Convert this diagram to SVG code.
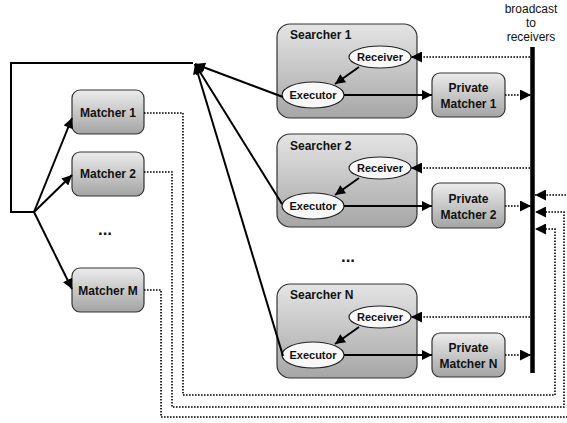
<svg xmlns="http://www.w3.org/2000/svg" width="567" height="423" viewBox="0 0 567 423">
  <defs>
    <linearGradient id="boxFill" x1="0" y1="0" x2="0" y2="1">
      <stop offset="0" stop-color="#ececec"/>
      <stop offset="1" stop-color="#a4a4a4"/>
    </linearGradient>
    <linearGradient id="searcherFill" x1="0" y1="0" x2="0" y2="1">
      <stop offset="0" stop-color="#e4e4e4"/>
      <stop offset="1" stop-color="#a6a6a6"/>
    </linearGradient>
    <marker id="arrow" viewBox="0 0 10 10" refX="10" refY="5" markerWidth="11" markerHeight="10" markerUnits="userSpaceOnUse" orient="auto">
      <path d="M0,0 L10,5 L0,10 z" fill="#000"/>
    </marker>
    <marker id="arrowDot" viewBox="0 0 10 10" refX="10" refY="5" markerWidth="12" markerHeight="11" markerUnits="userSpaceOnUse" orient="auto">
      <path d="M0,0 L10,5 L0,10 z" fill="#000"/>
    </marker>
  </defs>
  <style>
    .box { fill: url(#boxFill); stroke: #333; stroke-width: 1.2; }
    .searcher { fill: url(#searcherFill); stroke: #333; stroke-width: 1.2; }
    .oval { fill: #f8f8f8; stroke: #222; stroke-width: 1.2; }
    .lbl { font-family: "Liberation Sans", Arial, sans-serif; font-weight: bold; font-size: 12px; fill: #111; text-anchor: middle; }
    .small { font-size: 11px; }
    .dots { font-size: 17px; }
    .title { font-family: "Liberation Sans", Arial, sans-serif; font-weight: bold; font-size: 12px; fill: #111; }
    .note { font-family: "Liberation Sans", Arial, sans-serif; font-size: 12px; fill: #111; text-anchor: middle; }
    .solid { fill: none; stroke: #000; stroke-width: 2; }
    .dot { fill: none; stroke: #000; stroke-width: 1.6; stroke-dasharray: 1.6 1.4; }
    .dot.arr { marker-end: url(#arrowDot); }
  </style>

  <!-- matchers -->
  <g id="matcher-1">
    <rect class="box" x="72" y="90" width="72" height="44" rx="8"/>
    <text class="lbl" x="108" y="117">Matcher 1</text>
  </g>
  <g id="matcher-2">
    <rect class="box" x="72" y="152" width="72" height="44" rx="8"/>
    <text class="lbl" x="108" y="178">Matcher 2</text>
  </g>
  <g id="matcher-dots">
    <text class="lbl dots" x="105" y="235">...</text>
  </g>
  <g id="matcher-m">
    <rect class="box" x="72" y="268" width="72" height="44" rx="8"/>
    <text class="lbl" x="108" y="295">Matcher M</text>
  </g>

  <!-- searchers -->
  <g id="searcher-1">
    <rect class="searcher" x="277" y="24" width="140" height="94" rx="13"/>
    <text class="title" x="290" y="39">Searcher 1</text>
    <ellipse class="oval" cx="380" cy="57" rx="31" ry="11"/>
    <text class="lbl small" x="380" y="61">Receiver</text>
    <ellipse class="oval" cx="313" cy="95" rx="31" ry="13"/>
    <text class="lbl small" x="313" y="99">Executor</text>
  </g>
  <g id="searcher-2">
    <rect class="searcher" x="277" y="134" width="140" height="93" rx="13"/>
    <text class="title" x="290" y="150">Searcher 2</text>
    <ellipse class="oval" cx="380" cy="168" rx="31" ry="11"/>
    <text class="lbl small" x="380" y="172">Receiver</text>
    <ellipse class="oval" cx="313" cy="206" rx="31" ry="13"/>
    <text class="lbl small" x="313" y="210">Executor</text>
  </g>
  <g id="searcher-dots">
    <text class="lbl dots" x="348" y="262">...</text>
  </g>
  <g id="searcher-n">
    <rect class="searcher" x="277" y="284" width="140" height="94" rx="13"/>
    <text class="title" x="290" y="299">Searcher N</text>
    <ellipse class="oval" cx="380" cy="317" rx="31" ry="11"/>
    <text class="lbl small" x="380" y="321">Receiver</text>
    <ellipse class="oval" cx="313" cy="355" rx="31" ry="13"/>
    <text class="lbl small" x="313" y="359">Executor</text>
  </g>

  <!-- private matchers -->
  <g id="private-matcher-1">
    <rect class="box" x="432" y="73" width="73" height="44" rx="8"/>
    <text class="lbl" x="468.5" y="92">Private</text>
    <text class="lbl" x="468.5" y="108">Matcher 1</text>
  </g>
  <g id="private-matcher-2">
    <rect class="box" x="432" y="183" width="73" height="45" rx="8"/>
    <text class="lbl" x="468.5" y="203">Private</text>
    <text class="lbl" x="468.5" y="219">Matcher 2</text>
  </g>
  <g id="private-matcher-n">
    <rect class="box" x="432" y="333" width="73" height="44" rx="8"/>
    <text class="lbl" x="468.5" y="352">Private</text>
    <text class="lbl" x="468.5" y="368">Matcher N</text>
  </g>

  <!-- bus caption -->
  <g id="broadcast-label">
    <text class="note" x="531" y="13">broadcast</text>
    <text class="note" x="531" y="27">to</text>
    <text class="note" x="531" y="41">receivers</text>
  </g>

  <!-- connectors -->
  <g id="connectors">
    <!-- feedback loop from executors to matchers -->
    <polyline class="solid" points="34,212 11,212 11,63 193,63"/>
    <line class="solid" x1="283" y1="97" x2="195" y2="64" marker-end="url(#arrow)"/>
    <line class="solid" x1="282" y1="204" x2="195" y2="64" marker-end="url(#arrow)"/>
    <line class="solid" x1="283" y1="356" x2="195" y2="64" marker-end="url(#arrow)"/>
    <line class="solid" x1="34" y1="212" x2="72" y2="118" marker-end="url(#arrow)"/>
    <line class="solid" x1="34" y1="212" x2="72" y2="175" marker-end="url(#arrow)"/>
    <line class="solid" x1="34" y1="212" x2="72" y2="289" marker-end="url(#arrow)"/>

    <!-- receiver to executor -->
    <line class="solid" x1="359" y1="67" x2="335" y2="84" marker-end="url(#arrow)"/>
    <line class="solid" x1="359" y1="178" x2="335" y2="195" marker-end="url(#arrow)"/>
    <line class="solid" x1="359" y1="327" x2="335" y2="344" marker-end="url(#arrow)"/>

    <!-- executor to private matcher -->
    <line class="solid" x1="344" y1="95" x2="432" y2="95" marker-end="url(#arrow)"/>
    <line class="solid" x1="344" y1="206" x2="432" y2="206" marker-end="url(#arrow)"/>
    <line class="solid" x1="344" y1="355" x2="432" y2="355" marker-end="url(#arrow)"/>

    <!-- broadcast bus -->
    <line x1="532.5" y1="47" x2="532.5" y2="373" stroke="#000" stroke-width="4.5"/>

    <!-- bus to receivers -->
    <line class="dot arr" x1="530" y1="57" x2="411" y2="57"/>
    <line class="dot arr" x1="530" y1="168" x2="411" y2="168"/>
    <line class="dot arr" x1="530" y1="317" x2="411" y2="317"/>

    <!-- private matchers to bus -->
    <line class="dot arr" x1="505" y1="95" x2="531" y2="95"/>
    <line class="dot arr" x1="505" y1="206" x2="531" y2="206"/>
    <line class="dot arr" x1="505" y1="355" x2="531" y2="355"/>

    <!-- matchers to bus -->
    <polyline class="dot arr" points="144,113 183,113 183,395 555,395 555,229 535,229"/>
    <polyline class="dot arr" points="144,172 172,172 172,407 564,407 564,212 535,212"/>
    <polyline class="dot arr" points="144,290 161,290 161,417 572,417 572,195 535,195"/>
  </g>
</svg>
